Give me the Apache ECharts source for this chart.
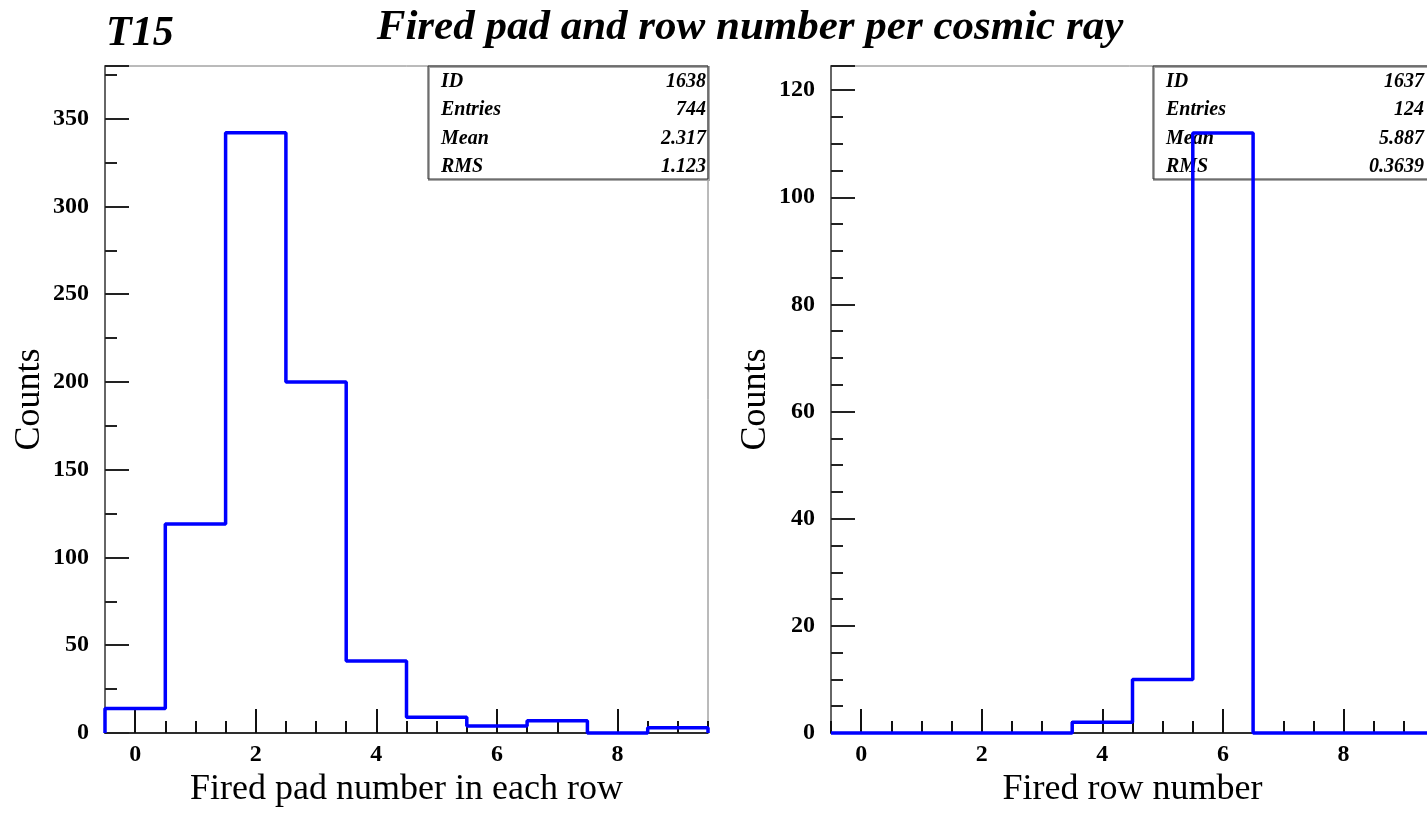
<!DOCTYPE html>
<html>
<head>
<meta charset="utf-8">
<script src="https://cdn.jsdelivr.net/npm/echarts@6/dist/echarts.min.js"></script>
<style>
html,body{margin:0;padding:0;background:#fff;}
#chart{width:1427px;height:833px;}
</style>
</head>
<body>
<div id="chart"></div>
<script>
// ---- data ----
const binCenters = [0, 1, 2, 3, 4, 5, 6, 7, 8, 9];
const padCounts = [14, 119, 342, 200, 41, 9, 4, 7, 0, 3];   // Fired pad number in each row
const rowCounts = [0, 0, 0, 0, 2, 10, 112, 0, 0, 0];        // Fired row number
const xTickValues = [-0.5, 0, 0.5, 1, 1.5, 2, 2.5, 3, 3.5, 4, 4.5, 5, 5.5, 6, 6.5, 7, 7.5, 8, 8.5, 9, 9.5];
const padStats = [['ID', '1638'], ['Entries', '744'], ['Mean', '2.317'], ['RMS', '1.123']];
const rowStats = [['ID', '1637'], ['Entries', '124'], ['Mean', '5.887'], ['RMS', '0.3639']];
const mainTitle = 'Fired pad and row number per cosmic ray';
const tag = 'T15';
const padXName = 'Fired pad number in each row';
const rowXName = 'Fired row number';
const yName = 'Counts';

// build histogram outline points (bin edges) from centers and counts
function histPoints(centers, counts) {
  const pts = [[centers[0] - 0.5, 0]];
  for (let i = 0; i < centers.length; i++) pts.push([centers[i] - 0.5, counts[i]]);
  const last = centers[centers.length - 1] + 0.5;
  pts.push([last, counts[counts.length - 1]]);
  pts.push([last, 0]);
  return pts;
}

const serif = 'Liberation Serif, Times New Roman, serif';
const grids = [
  { left: 105, top: 66, width: 603, height: 667 },
  { left: 831, top: 66, width: 603, height: 667 }
];
const yMax = [380, 124.5];
const yMajor = [50, 20];
const yMinor = [25, 5];

const option = {
  backgroundColor: '#fff',
  animation: false,
  grid: grids.map(g => Object.assign({ show: true, borderColor: '#777', borderWidth: 1, backgroundColor: 'transparent', containLabel: false, outerBoundsMode: 'none' }, g)),
  xAxis: [],
  yAxis: [],
  series: [],
  graphic: []
};

const xNames = [padXName, rowXName];
[0, 1].forEach(gi => {
  // main value x axis with short ticks every 0.5
  option.xAxis.push({
    type: 'value', gridIndex: gi, min: -0.5, max: 9.5, interval: 0.5,
    position: 'bottom',
    name: xNames[gi], nameLocation: 'middle', nameGap: 34,
    nameTextStyle: { fontFamily: serif, fontSize: 36, color: '#000' },
    axisLine: { show: true, onZero: false, lineStyle: { color: '#000', width: 1.5 } },
    axisTick: { show: true, inside: true, length: 12, lineStyle: { color: '#111', width: 2 } },
    axisLabel: {
      margin: 10, fontFamily: serif, fontWeight: 'bold', fontSize: 24, color: '#000',
      formatter: v => (v >= 0 && v <= 8 && v % 2 === 0) ? String(v) : ''
    },
    splitLine: { show: false }
  });
  // overlay category axis for long ticks at even integers
  option.xAxis.push({
    type: 'category', gridIndex: gi, data: xTickValues.map(String), boundaryGap: false,
    position: 'bottom',
    axisLine: { show: false, onZero: false },
    axisTick: { show: true, inside: true, length: 24, lineStyle: { color: '#111', width: 2 },
      interval: (i, v) => Number(v) >= 0 && Number(v) % 2 === 0 },
    axisLabel: { show: false },
    splitLine: { show: false }
  });
  // major y axis
  option.yAxis.push({
    type: 'value', gridIndex: gi, min: 0, max: yMax[gi], interval: yMajor[gi],
    position: 'left',
    name: yName, nameLocation: 'middle', nameGap: 57, nameRotate: 90,
    nameTextStyle: { fontFamily: serif, fontSize: 36, color: '#000' },
    axisLine: { show: true, onZero: false, lineStyle: { color: '#666', width: 2 } },
    axisTick: { show: true, inside: true, length: 24, lineStyle: { color: '#222', width: 2 } },
    axisLabel: {
      margin: 16, fontFamily: serif, fontWeight: 'bold', fontSize: 24, color: '#000',
      formatter: v => (v % yMajor[gi] === 0) ? String(v) : ''
    },
    splitLine: { show: false }
  });
  // minor y axis
  option.yAxis.push({
    type: 'value', gridIndex: gi, min: 0, max: yMax[gi], interval: yMinor[gi],
    position: 'left',
    axisLine: { show: false, onZero: false },
    axisTick: { show: true, inside: true, length: 12, lineStyle: { color: '#222', width: 2 } },
    axisLabel: { show: false },
    splitLine: { show: false }
  });
});

[padCounts, rowCounts].forEach((counts, gi) => {
  option.series.push({
    type: 'line', xAxisIndex: gi * 2, yAxisIndex: gi * 2,
    data: histPoints(binCenters, counts),
    step: 'end', showSymbol: false, symbol: 'none', z: 10,
    lineStyle: { color: '#0000ff', width: 3.5 },
    clip: false
  });
});

// stats boxes
function statsBox(x, y, w, h, stats, valueRight) {
  const els = [];
  els.push({ type: 'rect', shape: { x: x + 1, y: y + 1, width: w, height: h }, style: { fill: 'none', stroke: '#aaa', lineWidth: 2 }, z: 1 });
  els.push({ type: 'rect', shape: { x: x, y: y, width: w, height: h }, style: { fill: 'none', stroke: '#333', lineWidth: 1 }, z: 2 });
  const rowH = 28.2;
  stats.forEach((s, i) => {
    const cy = y + 16 + i * rowH;
    els.push({ type: 'text', x: x + 13, y: cy, style: { text: s[0], font: 'italic bold 20px ' + serif, fill: '#000', verticalAlign: 'middle' }, z: 3 });
    els.push({ type: 'text', x: valueRight, y: cy, style: { text: s[1], font: 'italic bold 20px ' + serif, fill: '#000', align: 'right', verticalAlign: 'middle' }, z: 3 });
  });
  return els;
}
option.graphic = [].concat(
  statsBox(428, 66, 280, 113, padStats, 706),
  statsBox(1153, 66, 290, 113, rowStats, 1424),
  [
    { type: 'text', x: 750, y: 28, style: { text: mainTitle, font: 'italic bold 43px ' + serif, fill: '#000', align: 'center', verticalAlign: 'middle' } },
    { type: 'text', x: 106, y: 34, style: { text: tag, font: 'italic bold 42px ' + serif, fill: '#000', align: 'left', verticalAlign: 'middle' } }
  ]
);

const chart = echarts.init(document.getElementById('chart'), null, { renderer: 'canvas' });
chart.setOption(option);
</script>
</body>
</html>
